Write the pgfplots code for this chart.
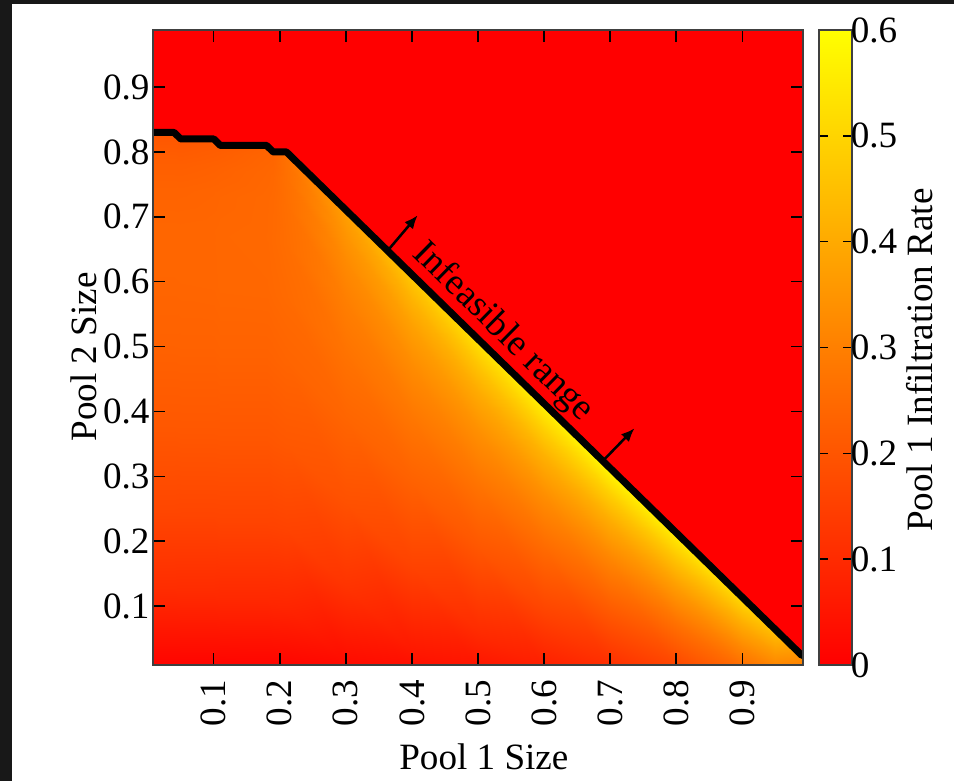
\documentclass[border=0pt]{standalone}
\usepackage{fontspec}
\setmainfont{Liberation Serif}
\usepackage{pgfplots}
\pgfplotsset{compat=1.18}
\usetikzlibrary{arrows.meta}
\definecolor{bgdark}{RGB}{24,24,24}

\begin{document}
\begin{tikzpicture}[font=\fontsize{13.2}{15.8}\selectfont]
% canvas 954 x 781 px, 1px = 0.0125cm
\useasboundingbox (0,0) rectangle (11.925,9.7625);
\fill[bgdark] (0,0) rectangle (11.925,9.7625);
\fill[white] (0.15,0) rectangle (11.925,9.7125);
\begin{axis}[
    at={(1.9125cm,1.45cm)}, anchor=south west,
    scale only axis, width=8.125cm, height=7.9375cm,
    xmin=0.008, xmax=0.992, ymin=0.009, ymax=0.988,
    axis on top,
    axis background/.style={fill=red},
    colormap={ry}{rgb255=(255,0,0) rgb255=(255,255,0)},
    point meta min=0, point meta max=0.6,
    xtick={0.1,0.2,0.3,0.4,0.5,0.6,0.7,0.8,0.9},
    ytick={0.1,0.2,0.3,0.4,0.5,0.6,0.7,0.8,0.9},
    /pgf/number format/assume math mode=true,
    tick align=inside,
    major tick length=0.15cm,
    tick style={black, line width=0.5pt},
    axis line style={black!75, line width=0.5pt},
    xticklabel style={yshift=-0.06cm, rotate=90, anchor=east},
    yticklabel style={xshift=0.08cm},
    xlabel={Pool 1 Size},
    xlabel style={at={(axis description cs:0.509,-0.145)}, anchor=center},
    ylabel={Pool 2 Size},
    ylabel style={at={(axis description cs:-0.106,0.485)}, anchor=center},
    colorbar,
    colorbar style={
        at={(parent axis.north east)}, anchor=north west, xshift=-0.1cm,
        width=0.4125cm,
        ytick={0,0.1,0.2,0.3,0.4,0.5,0.6},
        ytick pos=both, yticklabel pos=right,
        tick align=inside, major tick length=0.11cm,
        tick style={black, line width=0.5pt},
        axis line style={black!75, line width=0.5pt},
        /pgf/number format/assume math mode=true,
        yticklabel style={xshift=-0.14cm},
        ylabel={Pool 1 Infiltration Rate},
        ylabel style={at={(axis description cs:3.06,0.48)}, anchor=center},
    },
]

% feasible region, one scanline per column (x fixed, y rising to the boundary)
\addplot[surf, shader=interp, mesh/ordering=y varies, point meta=explicit]
    table[x=x, y=y, meta=v] {
x y v
0.008 0 0.002
0.008 0.13 0.106
0.008 0.25 0.166
0.008 0.38 0.207
0.008 0.51 0.231
0.008 0.61 0.239
0.008 0.69 0.239
0.008 0.75 0.231
0.008 0.79 0.220
0.008 0.815 0.209
0.008 0.83 0.200

0.04 0 0.002
0.04 0.13 0.106
0.04 0.25 0.166
0.04 0.38 0.207
0.04 0.51 0.231
0.04 0.61 0.239
0.04 0.69 0.239
0.04 0.75 0.231
0.04 0.79 0.220
0.04 0.815 0.209
0.04 0.83 0.200

0.05 0 0.002
0.05 0.12 0.100
0.05 0.24 0.162
0.05 0.37 0.205
0.05 0.50 0.230
0.05 0.60 0.239
0.05 0.68 0.240
0.05 0.74 0.233
0.05 0.78 0.223
0.05 0.805 0.213
0.05 0.82 0.205

0.10 0 0.002
0.10 0.12 0.100
0.10 0.24 0.162
0.10 0.37 0.205
0.10 0.50 0.230
0.10 0.60 0.240
0.10 0.68 0.241
0.10 0.74 0.236
0.10 0.78 0.227
0.10 0.805 0.218
0.10 0.82 0.210

0.11 0 0.002
0.11 0.11 0.094
0.11 0.23 0.159
0.11 0.36 0.203
0.11 0.49 0.231
0.11 0.59 0.242
0.11 0.67 0.243
0.11 0.73 0.239
0.11 0.77 0.231
0.11 0.795 0.223
0.11 0.81 0.215

0.18 0 0.003
0.18 0.11 0.094
0.18 0.23 0.159
0.18 0.36 0.203
0.18 0.49 0.231
0.18 0.59 0.243
0.18 0.67 0.246
0.18 0.73 0.245
0.18 0.77 0.241
0.18 0.795 0.236
0.18 0.81 0.230

0.19 0 0.003
0.19 0.10 0.087
0.19 0.22 0.155
0.19 0.35 0.202
0.19 0.48 0.231
0.19 0.58 0.245
0.19 0.66 0.249
0.19 0.72 0.248
0.19 0.76 0.245
0.19 0.785 0.240
0.19 0.80 0.235

0.21 0 0.004
0.21 0.10 0.088
0.21 0.22 0.158
0.21 0.35 0.206
0.21 0.48 0.236
0.21 0.58 0.250
0.21 0.66 0.257
0.21 0.72 0.260
0.21 0.76 0.262
0.21 0.785 0.263
0.21 0.80 0.265

0.30 0 0.014
0.30 0.0105 0.025
0.30 0.1305 0.121
0.30 0.2605 0.190
0.30 0.3905 0.238
0.30 0.4905 0.270
0.30 0.5705 0.298
0.30 0.6305 0.325
0.30 0.6705 0.349
0.30 0.6955 0.367
0.30 0.7105 0.380

0.40 0 0.026
0.40 0 0.026
0.40 0.031 0.056
0.40 0.161 0.157
0.40 0.291 0.229
0.40 0.391 0.280
0.40 0.471 0.329
0.40 0.531 0.377
0.40 0.571 0.421
0.40 0.596 0.456
0.40 0.611 0.480

0.50 0 0.041
0.50 0 0.041
0.50 0 0.041
0.50 0.0615 0.102
0.50 0.1915 0.204
0.50 0.2915 0.274
0.50 0.3715 0.339
0.50 0.4315 0.404
0.50 0.4715 0.463
0.50 0.4965 0.508
0.50 0.5115 0.540

0.60 0 0.064
0.60 0 0.064
0.60 0 0.064
0.60 0 0.064
0.60 0.092 0.160
0.60 0.192 0.253
0.60 0.272 0.336
0.60 0.332 0.417
0.60 0.372 0.487
0.60 0.397 0.542
0.60 0.412 0.580

0.70 0 0.099
0.70 0 0.099
0.70 0 0.099
0.70 0 0.099
0.70 0 0.099
0.70 0.0925 0.211
0.70 0.1725 0.313
0.70 0.2325 0.407
0.70 0.2725 0.487
0.70 0.2975 0.548
0.70 0.3125 0.590

0.80 0 0.153
0.80 0 0.153
0.80 0 0.153
0.80 0 0.153
0.80 0 0.153
0.80 0 0.153
0.80 0.073 0.266
0.80 0.133 0.373
0.80 0.173 0.461
0.80 0.198 0.526
0.80 0.213 0.570

0.90 0 0.243
0.90 0 0.243
0.90 0 0.243
0.90 0 0.243
0.90 0 0.243
0.90 0 0.243
0.90 0 0.243
0.90 0.0335 0.313
0.90 0.0735 0.407
0.90 0.0985 0.475
0.90 0.1135 0.520

0.95 0 0.295
0.95 0 0.295
0.95 0 0.295
0.95 0 0.295
0.95 0 0.295
0.95 0 0.295
0.95 0 0.295
0.95 0 0.295
0.95 0.0237 0.352
0.95 0.0487 0.417
0.95 0.0637 0.460

0.992 0 0.281
0.992 0 0.281
0.992 0 0.281
0.992 0 0.281
0.992 0 0.281
0.992 0 0.281
0.992 0 0.281
0.992 0 0.281
0.992 0 0.281
0.992 0.007 0.297
0.992 0.022 0.330
};

% boundary of the feasible range
\addplot[black, line width=2.5pt, line cap=round, line join=round] coordinates {
    (0.008,0.83) (0.04,0.83) (0.05,0.82) (0.10,0.82) (0.11,0.81)
    (0.18,0.81) (0.19,0.80) (0.21,0.80) (0.99,0.024)
};

% arrows pointing into the infeasible side
\addplot[black, line width=0.9pt, -{Latex[length=0.17cm,width=0.14cm]}]
    coordinates {(0.3634,0.648) (0.4087,0.7024)};
\addplot[black, line width=0.9pt, -{Latex[length=0.17cm,width=0.14cm]}]
    coordinates {(0.690,0.3247) (0.737,0.374)};

\node[rotate=-44.5] at (axis cs:0.538,0.522) {Infeasible range};
\end{axis}
\end{tikzpicture}
\end{document}
